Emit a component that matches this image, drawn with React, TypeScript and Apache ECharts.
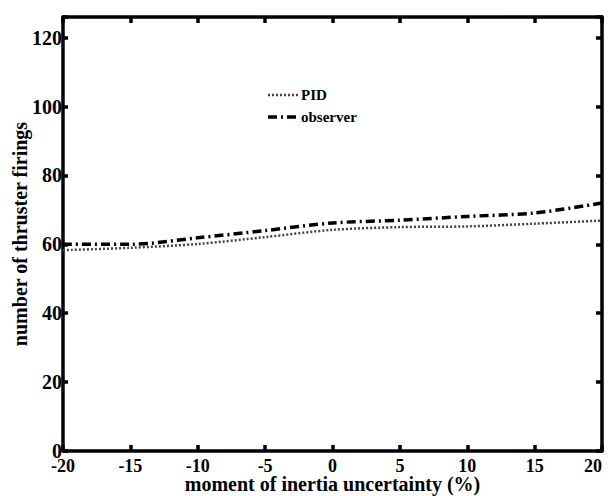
import React, { useEffect, useRef } from "react";
import * as echarts from "echarts";

const xValues = [-20, -15, -10, -5, 0, 5, 10, 15, 20];
const pidValues = [58.3, 59, 60.1, 62.1, 64.2, 65, 65.2, 66, 66.9];
const observerValues = [60, 60, 61.9, 64, 66.2, 67, 68.1, 69.1, 72];
const seriesNames = ["PID", "observer"];
const xTitle = "moment of inertia uncertainty (%)";
const yTitle = "number of thruster firings";

const FONT = "'Liberation Serif', 'DejaVu Serif', serif";
const PID_COLOR = "#444";
const OBS_COLOR = "#000";
const PID_DASH = [2, 2];
const OBS_DASH = [9, 4, 2, 4];

export default function App() {
  const ref = useRef<HTMLDivElement>(null);
  useEffect(() => {
    if (!ref.current) return;
    const chart = echarts.init(ref.current, undefined, { renderer: "svg" });
    const axisLineStyle = { color: "#000", width: 3.5 };
    const tickStyle = { color: "#000", width: 3.5 };
    const yFmt = (v: number) => (v % 20 === 0 ? String(v) : "");
    const legendItems = [
      { name: seriesNames[0], y: 95, color: PID_COLOR, dash: PID_DASH, width: 2.5 },
      { name: seriesNames[1], y: 117, color: OBS_COLOR, dash: OBS_DASH, width: 3.5 },
    ];
    chart.setOption({
      animation: false,
      backgroundColor: "#fff",
      textStyle: { fontFamily: FONT },
      grid: { left: 63, right: 6, top: 17, bottom: 45, containLabel: false, outerBoundsMode: "none" },
      graphic: legendItems.flatMap((it) => [
        {
          type: "line",
          shape: { x1: 268, y1: it.y, x2: 298, y2: it.y },
          style: { stroke: it.color, lineWidth: it.width, lineDash: it.dash },
        },
        {
          type: "text",
          x: 301,
          y: it.y,
          style: {
            text: it.name,
            fontFamily: FONT,
            fontWeight: "bold",
            fontSize: 15,
            fill: "#000",
            verticalAlign: "middle",
            align: "left",
          },
        },
      ]),
      xAxis: [
        {
          type: "value",
          min: -20,
          max: 20,
          interval: 5,
          position: "bottom",
          name: xTitle,
          nameLocation: "middle",
          nameGap: 24,
          nameMoveOverlap: false,
          nameTextStyle: { fontFamily: FONT, fontWeight: "bold", fontSize: 20, lineHeight: 18, color: "#000" },
          axisLine: { show: true, onZero: false, lineStyle: axisLineStyle },
          axisTick: { show: true, inside: true, length: 6, lineStyle: tickStyle },
          axisLabel: {
            fontFamily: FONT,
            fontWeight: "bold",
            fontSize: 18,
            lineHeight: 14,
            color: "#000",
            margin: 8,
            alignMaxLabel: "right",
          },
          splitLine: { show: false },
        },
        {
          type: "value",
          min: -20,
          max: 20,
          interval: 5,
          position: "top",
          axisLine: { show: true, onZero: false, lineStyle: axisLineStyle },
          axisTick: { show: true, inside: true, length: 6, lineStyle: tickStyle },
          axisLabel: { show: false },
          splitLine: { show: false },
        },
      ],
      yAxis: [
        {
          type: "value",
          min: 0,
          max: 126,
          interval: 20,
          position: "left",
          name: yTitle,
          nameLocation: "middle",
          nameGap: 33,
          nameMoveOverlap: false,
          nameTextStyle: { fontFamily: FONT, fontWeight: "bold", fontSize: 20, color: "#000" },
          axisLine: { show: true, onZero: false, lineStyle: axisLineStyle },
          axisTick: { show: true, inside: true, length: 5, lineStyle: tickStyle },
          axisLabel: {
            fontFamily: FONT,
            fontWeight: "bold",
            fontSize: 20,
            lineHeight: 14,
            color: "#000",
            margin: 1,
            formatter: yFmt,
          },
          splitLine: { show: false },
        },
        {
          type: "value",
          min: 0,
          max: 126,
          interval: 20,
          position: "right",
          axisLine: { show: true, onZero: false, lineStyle: axisLineStyle },
          axisTick: { show: true, inside: true, length: 6, lineStyle: tickStyle },
          axisLabel: { show: false },
          splitLine: { show: false },
        },
      ],
      series: [
        {
          name: seriesNames[0],
          type: "line",
          symbol: "none",
          smooth: 0.3,
          data: xValues.map((x, i) => [x, pidValues[i]]),
          lineStyle: { color: PID_COLOR, width: 2.5, type: PID_DASH },
          itemStyle: { color: PID_COLOR },
        },
        {
          name: seriesNames[1],
          type: "line",
          symbol: "none",
          smooth: 0.3,
          data: xValues.map((x, i) => [x, observerValues[i]]),
          lineStyle: { color: OBS_COLOR, width: 3.5, type: OBS_DASH },
          itemStyle: { color: OBS_COLOR },
        },
      ],
    });
    return () => chart.dispose();
  }, []);
  return <div ref={ref} style={{ width: 608, height: 496, position: "absolute", left: 0, top: 0 }} />;
}
